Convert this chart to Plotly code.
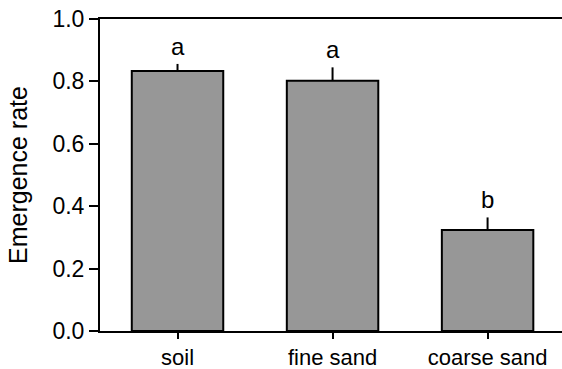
import plotly.graph_objects as go

categories = ["soil", "fine sand", "coarse sand"]
values = [0.833, 0.802, 0.324]
errors = [0.023, 0.043, 0.040]
letters = ["a", "a", "b"]
y_ticks = [0.0, 0.2, 0.4, 0.6, 0.8, 1.0]
y_ticklabels = ["0.0", "0.2", "0.4", "0.6", "0.8", "1.0"]

FONT = "Liberation Sans, Arial, sans-serif"

fig = go.Figure()
fig.add_trace(go.Bar(
    x=list(range(len(categories))),
    y=values,
    width=0.59,
    marker=dict(color="#979797", line=dict(color="black", width=2)),
    error_y=dict(type="data", array=errors, arrayminus=[0] * len(errors),
                 symmetric=False, color="black", thickness=2, width=0),
))

for i, (v, e, t) in enumerate(zip(values, errors, letters)):
    fig.add_annotation(x=i, y=v + e, text=t, showarrow=False,
                       yanchor="bottom", yshift=2,
                       font=dict(family=FONT, size=24, color="black"))

fig.update_layout(
    width=562, height=369,
    margin=dict(l=100, r=0, t=19, b=38, autoexpand=False),
    plot_bgcolor="white", paper_bgcolor="white",
    showlegend=False,
    font=dict(family=FONT, size=23, color="black"),
    xaxis=dict(
        range=[-0.5, 2.48], automargin=False,
        tickmode="array", tickvals=list(range(len(categories))), ticktext=categories,
        showline=True, linecolor="black", linewidth=2, mirror=True,
        ticks="outside", ticklen=6, tickwidth=2, tickcolor="black",
        showgrid=False, zeroline=False,
        tickfont=dict(family=FONT, size=22, color="black"),
    ),
    yaxis=dict(
        range=[0, 1.0], automargin=False,
        tickmode="array", tickvals=y_ticks, ticktext=y_ticklabels,
        showline=True, linecolor="black", linewidth=2,
        ticks="outside", ticklen=9, tickwidth=2, tickcolor="black",
        showgrid=False, zeroline=False,
        tickfont=dict(family=FONT, size=23, color="black"),
        title=dict(text="Emergence rate", standoff=18,
                   font=dict(family=FONT, size=25, color="black")),
    ),
)

fig.write_html("out.html")
